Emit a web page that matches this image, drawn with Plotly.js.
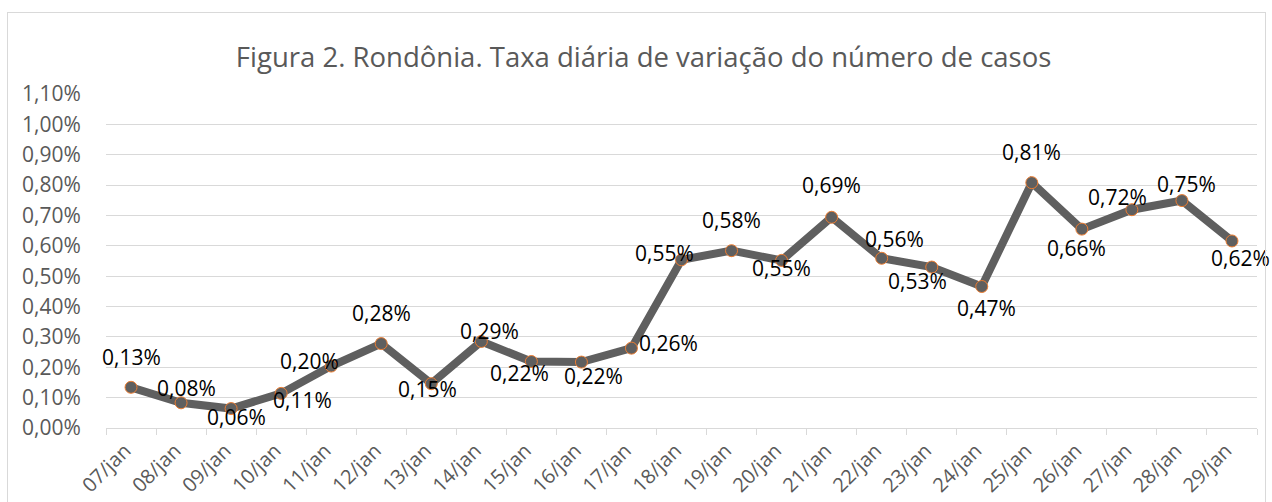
<!DOCTYPE html>
<html>
<head>
<meta charset="utf-8">
<script src="https://cdn.plot.ly/plotly-3.0.1.min.js"></script>
<style>
  html, body { margin: 0; padding: 0; background: #ffffff; }
  #chart { width: 1272px; height: 502px; }
  #frame { position: absolute; left: 7px; top: 12px; width: 1257px; height: 500px; border: 1px solid #d9d9d9; pointer-events: none; }
</style>
</head>
<body>
<div id="chart"></div>
<div id="frame"></div>
<script>
const categories = ["07/jan","08/jan","09/jan","10/jan","11/jan","12/jan","13/jan","14/jan","15/jan","16/jan","17/jan","18/jan","19/jan","20/jan","21/jan","22/jan","23/jan","24/jan","25/jan","26/jan","27/jan","28/jan","29/jan"];
const rates = [0.00134,0.00083,0.00064,0.00114,0.00204,0.00278,0.00146,0.00285,0.00219,0.00217,0.00263,0.00554,0.00584,0.00552,0.00694,0.00559,0.00530,0.00466,0.00808,0.00655,0.00719,0.00749,0.00616];

// label offsets (pixels) relative to each point: [dx, dy] (dy positive = downward)
const labelOffsets = [[0,-30],[5,-15],[5,8],[21,7],[-22,-5],[0,-31],[-4,5],[8,-10],[-12,11],[12,14],[37,-5],[-17,-7],[0,-31],[0,8],[0,-32],[13,-19],[-14,14],[5,21],[0,-31],[-5,19],[-14,-13],[5,-17],[9,17]];

const FONT = "'Open Sans', 'Noto Sans', sans-serif";

const annotations = categories.map((c, i) => ({
  x: c, y: rates[i], xref: 'x', yref: 'y',
  text: (rates[i] * 100).toFixed(2).replace('.', ',') + '%',
  showarrow: false,
  xshift: labelOffsets[i][0],
  yshift: -labelOffsets[i][1],
  font: { family: FONT, size: 21, color: '#000000' }
}));

const trace = {
  type: 'scatter',
  mode: 'lines+markers',
  x: categories,
  y: rates,
  line: { color: '#5f5f5f', width: 8 },
  marker: { size: 12, color: '#5f5f5f', line: { color: '#ed7d31', width: 1 } },
  hoverinfo: 'skip',
  cliponaxis: false
};

const layout = {
  width: 1272, height: 502,
  margin: { l: 106, r: 15, t: 94, b: 74 },
  paper_bgcolor: '#ffffff', plot_bgcolor: '#ffffff',
  separators: ',.',
  showlegend: false,
  title: {
    text: 'Figura 2. Rondônia. Taxa diária de variação do número de casos',
    font: { family: FONT, size: 27.5, color: '#595959' },
    xref: 'container', yref: 'container',
    x: 0.506, xanchor: 'center', y: 0.886, yanchor: 'middle'
  },
  xaxis: {
    type: 'category',
    range: [-0.5, categories.length - 0.5],
    automargin: false,
    tickangle: -45,
    tickson: 'boundaries',
    ticks: 'outside', ticklen: 6, tickcolor: '#d9d9d9', tickwidth: 1,
    ticklabelstandoff: 2,
    ticklabelshift: -6,
    showline: true, linecolor: '#d9d9d9', linewidth: 1,
    showgrid: false,
    tickfont: { family: FONT, size: 20, color: '#595959' },
    fixedrange: true
  },
  yaxis: {
    automargin: false,
    range: [0, 0.011],
    dtick: 0.001,
    tickformat: '.2%',
    showgrid: true, gridcolor: '#d9d9d9', gridwidth: 1,
    zeroline: false, showline: false,
    ticks: 'outside', ticklen: 20, tickcolor: 'rgba(0,0,0,0)',
    tickfont: { family: FONT, size: 21, color: '#595959' },
    fixedrange: true
  },
  annotations: annotations
};

Plotly.newPlot('chart', [trace], layout, { displayModeBar: false, staticPlot: true });
</script>
</body>
</html>
